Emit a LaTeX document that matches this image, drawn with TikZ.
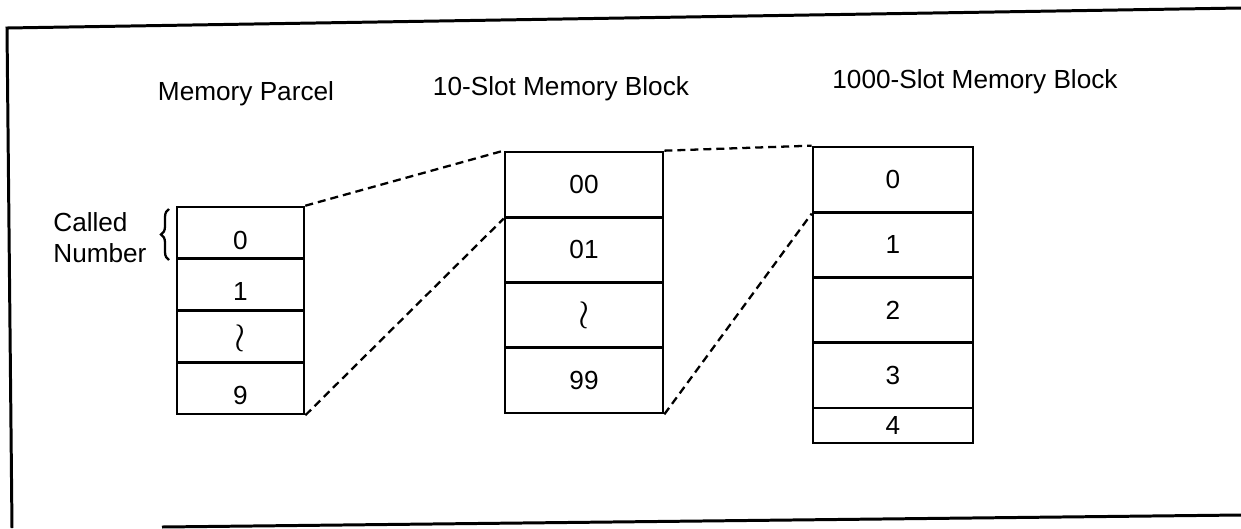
\documentclass[tikz,border=0pt]{standalone}
\usepackage{graphicx}
\usepackage{fontspec}
\setmainfont{Liberation Sans}
\usetikzlibrary{decorations.pathreplacing}
\newcommand{\lblfont}{\fontsize{14.9}{17.6}\selectfont}
\newcommand{\bigwr}{\scalebox{1.6}{$\wr$}}
\begin{document}
\begin{tikzpicture}[x=0.02cm,y=-0.02cm,
  frameline/.style={line width=1.7pt},
  boxcell/.style={draw,line width=1.5pt,inner sep=0pt,font=\lblfont},
  pcell/.style={boxcell,minimum width=2.54cm,minimum height=1.035cm},
  tcell/.style={boxcell,minimum width=3.16cm,minimum height=1.305cm},
  kcell/.style={boxcell,minimum width=3.2cm,minimum height=1.305cm},
  title/.style={font=\lblfont,anchor=base,inner sep=0pt},
  link/.style={line width=1.3pt,dash pattern=on 0.16cm off 0.1cm},
  plabel/.style={font=\lblfont,inner sep=0pt}
]
\useasboundingbox (0,0) rectangle (1241,528);
% frame
\coordinate (f1) at (7,28);
\coordinate (f2) at (1241,8);
\coordinate (f3) at (12,528);
\coordinate (f4) at (162,527);
\coordinate (f5) at (1241,515);
\draw[frameline] (f2) -- (f1) -- (f3);
\draw[frameline] (f4) -- (f5);

% titles
\node[title] (t1) at (246,100) {Memory Parcel};
\node[title] (t2) at (561,95) {10-Slot Memory Block};
\node[title] (t3) at (975,88) {1000-Slot Memory Block};

% memory parcel
\node[pcell] (p0) at (240.5,232.9) {};
\node[pcell] (p1) at (240.5,284.6) {};
\node[pcell] (p2) at (240.5,336.4) {};
\node[pcell] (p3) at (240.5,388.1) {};
\node[plabel] (p0t) at (240.5,240) {0};
\node[plabel] (p1t) at (240.5,291) {1};
\node[plabel] (p2t) at (240.5,338) {\bigwr};
\node[plabel] (p3t) at (240.5,395) {9};

% called number
\node[font=\lblfont,align=left,anchor=north west,inner sep=0pt] (cn) at (53,212) {Called\\Number};
\coordinate (bb) at (169,260);
\coordinate (bt) at (169,209);
\draw[decorate,decoration={brace,amplitude=0.16cm},line width=1.3pt] (bb) -- (bt);

% 10-slot block
\node[tcell] (s0) at (584,184.6) {00};
\node[tcell] (s1) at (584,249.9) {01};
\node[tcell] (s2) at (584,315.1) {\bigwr};
\node[tcell] (s3) at (584,380.4) {99};

% 1000-slot block
\node[kcell] (k0) at (893,179.6) {0};
\node[kcell] (k1) at (893,244.9) {1};
\node[kcell] (k2) at (893,310.1) {2};
\node[kcell] (k3) at (893,375.4) {3};
\node[kcell,minimum height=0.7cm] (k4) at (893,425.5) {4};

% dashed connectors
\draw[link] (p0.north east) -- (s0.north west);
\draw[link] (p3.south east) -- (s0.south west);
\draw[link] (s0.north east) -- (k0.north west);
\draw[link] (s3.south east) -- (k0.south west);
\end{tikzpicture}
\end{document}
